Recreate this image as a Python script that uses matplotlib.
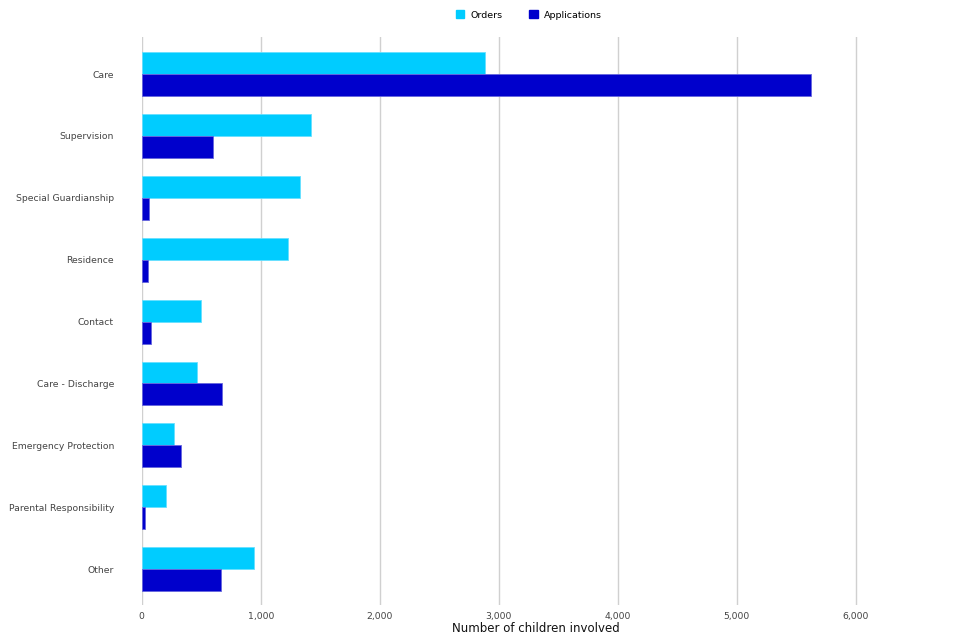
import matplotlib
matplotlib.use("Agg")
import matplotlib.pyplot as plt
import numpy as np
from matplotlib.patches import Patch

categories = ["Care", "Supervision", "Special Guardianship", "Residence", "Contact",
              "Care - Discharge", "Emergency Protection", "Parental Responsibility", "Other"]
orders = [2885, 1423, 1328, 1232, 501, 462, 271, 202, 946]
applications = [5624, 602, 61, 50, 76, 675, 328, 30, 664]
xticks = [0, 1000, 2000, 3000, 4000, 5000, 6000]
xtick_labels = ["0", "1,000", "2,000", "3,000", "4,000", "5,000", "6,000"]

c_orders = "#00ccff"
c_apps = "#0000cc"

fig = plt.figure(figsize=(9.6, 6.4), dpi=100)
ax = fig.add_axes([141.7/960, 1 - 605/640, (931 - 141.7)/960, (605 - 37)/640])

y = np.arange(len(categories))
h = 0.355
ax.barh(y - h/2, orders, height=h, color=c_orders, edgecolor="#66e0ff", linewidth=0.6, zorder=3)
ax.barh(y + h/2, applications, height=h, color=c_apps, edgecolor="#6666dd", linewidth=0.6, zorder=3)

ax.set_ylim(8.58, -0.6)
ax.set_xlim(0, 6633)
ax.set_yticks(y)
ax.set_yticklabels(categories, fontsize=6.7, color="#444444")
ax.set_xticks(xticks)
ax.set_xticklabels(xtick_labels, fontsize=6.7, color="#444444")
ax.tick_params(axis="y", length=0, pad=20)
ax.tick_params(axis="x", length=0, pad=5)
ax.grid(axis="x", color="#d0d0d0", linewidth=1, zorder=0)
for s in ax.spines.values():
    s.set_visible(False)
ax.set_xlabel("Number of children involved", fontsize=8.5, color="#111111", labelpad=1)

handles = [Patch(facecolor=c_orders, edgecolor=c_orders), Patch(facecolor=c_apps, edgecolor=c_apps)]
fig.legend(handles, ["Orders", "Applications"], loc="center", bbox_to_anchor=(529/960, 1 - 15/640),
           ncol=2, frameon=False, fontsize=6.8, handlelength=0.9, handleheight=0.9,
           columnspacing=2.8, handletextpad=0.7)

fig.savefig("out.png", dpi=100)
